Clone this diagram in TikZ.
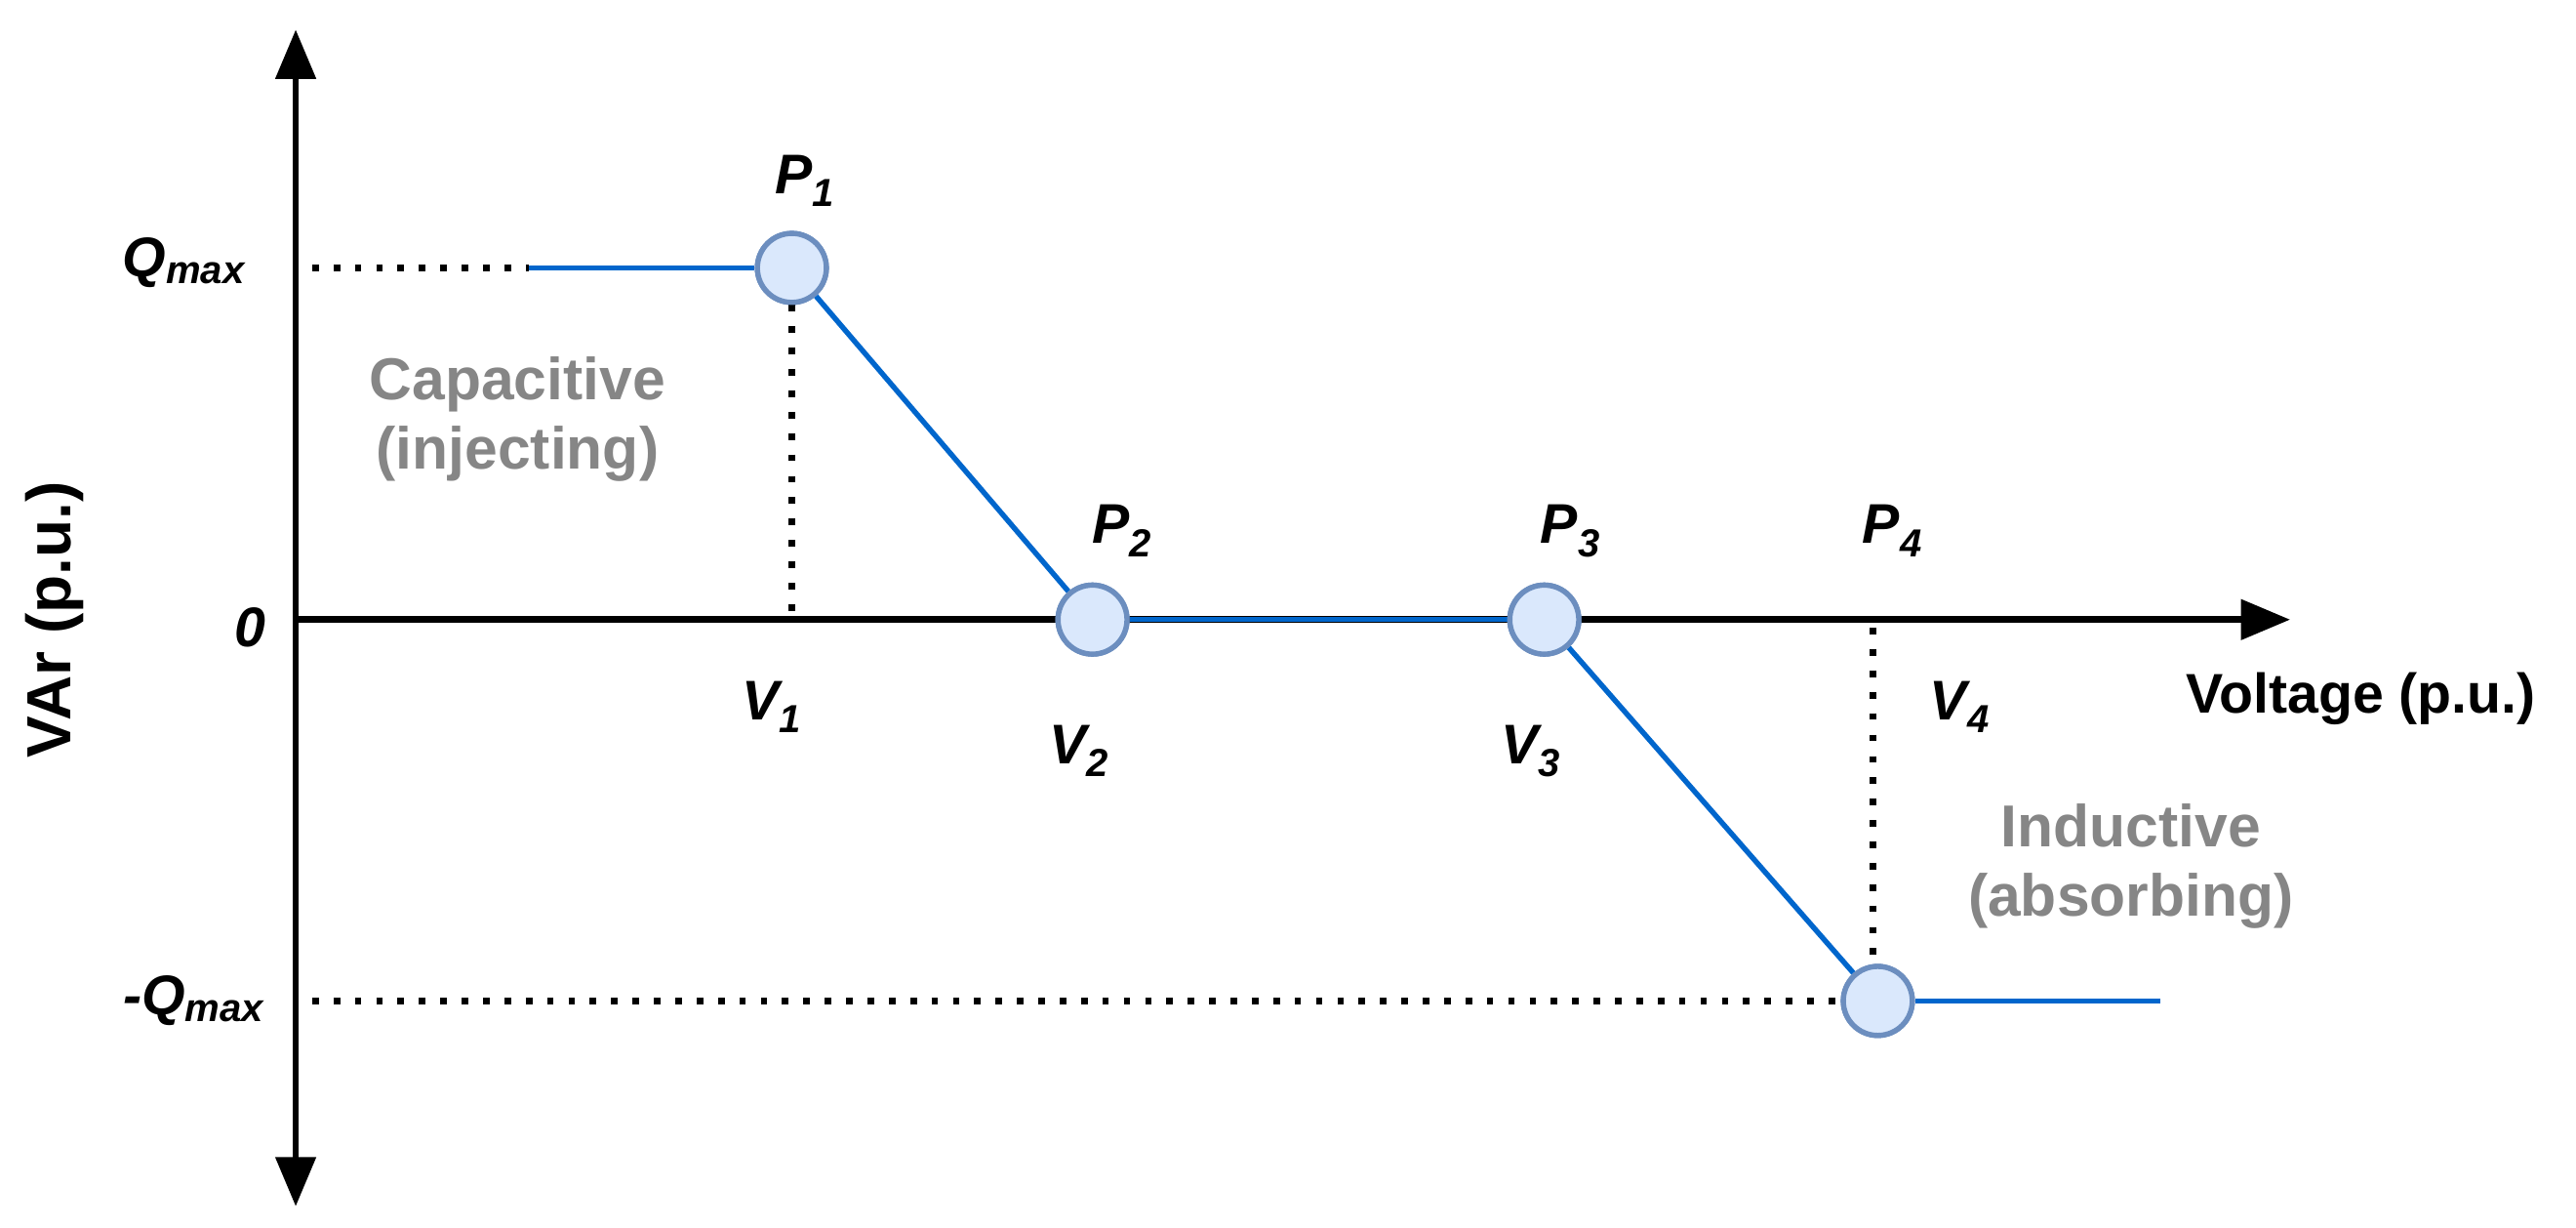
\documentclass[tikz,border=0pt]{standalone}
\usepackage{fontspec}
\setmainfont{Liberation Sans}
\usetikzlibrary{arrows.meta}
\definecolor{blu}{HTML}{0066CC}
\definecolor{cfill}{HTML}{DAE8FC}
\definecolor{cdraw}{HTML}{6C8EBF}
\begin{document}
\begin{tikzpicture}[x=1pt,y=-1pt,
  axis/.style={line width=4pt,-{Triangle[length=30pt,width=24pt]}},
  curve/.style={blu,line width=3.2pt},
  dot/.style={line width=4pt,dash pattern=on 4pt off 9pt},
  pt/.style={circle,draw=cdraw,fill=cfill,line width=3.2pt,minimum size=42pt,inner sep=0},
  lab/.style={font=\fontsize{34}{36}\selectfont\bfseries\itshape},
  gray/.style={font=\fontsize{36}{42}\selectfont\bfseries,text=gray!95,align=center}]
\useasboundingbox (0,0) rectangle (1568,747);
\coordinate (ytop) at (180,18);
\coordinate (ybot) at (180,734);
\coordinate (ymid) at (180,377);
\coordinate (xend) at (1394,377);
\draw[axis] (ymid) -- (ytop);
\draw[axis] (ymid) -- (ybot);
\draw[axis] (ymid) -- (xend);
\node[pt] (P1) at (482,163) {};
\node[pt] (P2) at (665,377) {};
\node[pt] (P3) at (940,377) {};
\node[pt] (P4) at (1143,609) {};
\coordinate (qs) at (322,163);
\coordinate (qe) at (1315,609);
\coordinate (qd1) at (190,163);
\coordinate (qd2) at (190,609);
\coordinate (v1) at (482,372);
\coordinate (v4a) at (1140,382);
\coordinate (v4b) at (1140,590);
\draw[dot] (qd1) -- (qs);
\draw[dot] (qd2) -- (P4.west);
\draw[dot] (P1.south) -- (v1);
\draw[dot] (v4a) -- (v4b);
\draw[curve] (qs) -- (P1.west);
\draw[curve] (P1) -- (P2);
\draw[curve] (P2.east) -- (P3.west);
\draw[curve] (P3) -- (P4);
\draw[curve] (P4.east) -- (qe);
\node[pt] at (P1) {};\node[pt] at (P2) {};\node[pt] at (P3) {};\node[pt] at (P4) {};
\node[lab] (lq) at (112,160) {Q\textsubscript{max}};
\node[lab] (l0) at (152,382) {0};
\node[lab] (lmq) at (118,609) {-Q\textsubscript{max}};
\node[lab] (lp1) at (490,110) {P\textsubscript{1}};
\node[lab] (lp2) at (683,323) {P\textsubscript{2}};
\node[lab] (lp3) at (956,323) {P\textsubscript{3}};
\node[lab] (lp4) at (1152,323) {P\textsubscript{4}};
\node[lab] (lv1) at (470,430) {V\textsubscript{1}};
\node[lab] (lv2) at (657,457) {V\textsubscript{2}};
\node[lab] (lv3) at (932,457) {V\textsubscript{3}};
\node[lab] (lv4) at (1193,430) {V\textsubscript{4}};
\node[font=\fontsize{34}{36}\selectfont\bfseries] (xl) at (1437,425) {Voltage (p.u.)};
\node[font=\fontsize{38}{40}\selectfont\bfseries,rotate=90] (yl) at (33,377) {VAr (p.u.)};
\node[gray] (cap) at (315,255) {Capacitive\\(injecting)};
\node[gray] (ind) at (1297,527) {Inductive\\(absorbing)};
\end{tikzpicture}
\end{document}
